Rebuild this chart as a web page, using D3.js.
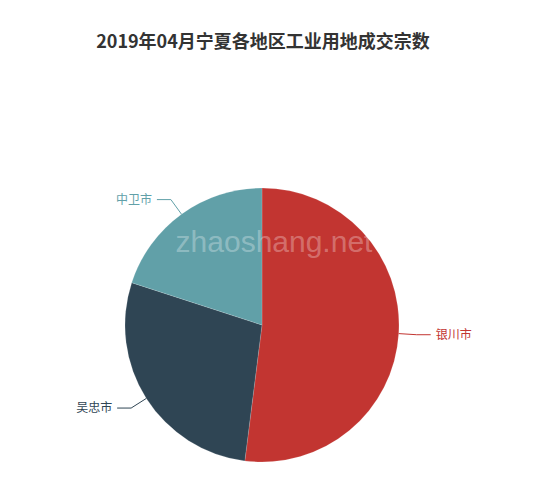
<!DOCTYPE html>
<html>
<head>
<meta charset="utf-8">
<script src="https://cdn.jsdelivr.net/npm/d3@7"></script>
<style>
  body { margin: 0; background: #fff; }
</style>
</head>
<body>
<div id="chart"></div>
<script>
// data
var regions = ["银川市", "吴忠市", "中卫市"];
var counts = [13, 7, 5];
var colors = ["#c23531", "#2f4554", "#61a0a8"];

var svgWidth = 550;
var svgHeight = 490;
var cx = 262, cy = 325, radius = 137;

var svg = d3.select("#chart")
  .append("svg")
  .attr("width", svgWidth)
  .attr("height", svgHeight);

// title
svg.append("text")
  .attr("x", 263)
  .attr("y", 48)
  .attr("text-anchor", "middle")
  .attr("font-family", "'Noto Sans CJK SC', sans-serif")
  .attr("font-weight", "bold")
  .attr("font-size", 18)
  .attr("fill", "#333")
  .text("2019年04月宁夏各地区工业用地成交宗数");

var data = regions.map(function(r, i) {
  return { name: r, value: counts[i], color: colors[i] };
});

var pie = d3.pie().sort(null).value(d => d.value);
var arcs = pie(data);

var arc = d3.arc().innerRadius(0).outerRadius(radius);

var g = svg.append("g")
  .attr("transform", `translate(${cx}, ${cy})`);

g.selectAll("path")
  .data(arcs)
  .enter()
  .append("path")
  .attr("d", arc)
  .attr("fill", d => d.data.color)
  .attr("stroke", "rgba(255,255,255,0.25)")
  .attr("stroke-width", 0.6);

// label lines
var len1 = 18, len2 = 14;
arcs.forEach(function(d) {
  var mid = (d.startAngle + d.endAngle) / 2;
  var sx = Math.sin(mid), sy = -Math.cos(mid);
  var p0 = [sx * radius, sy * radius];
  var p1 = [sx * (radius + len1), sy * (radius + len1)];
  var dir = sx >= 0 ? 1 : -1;
  var p2 = [p1[0] + dir * len2, p1[1]];

  g.append("polyline")
    .attr("points", [p0, p1, p2].map(p => p.join(",")).join(" "))
    .attr("fill", "none")
    .attr("stroke", d.data.color)
    .attr("stroke-width", 1);

  g.append("text")
    .attr("x", p2[0] + dir * 5)
    .attr("y", p2[1])
    .attr("dy", "0.35em")
    .attr("text-anchor", dir > 0 ? "start" : "end")
    .attr("font-family", "'Noto Sans CJK SC', sans-serif")
    .attr("font-size", 12)
    .attr("fill", d.data.color)
    .text(d.data.name);
});

// watermark
svg.append("text")
  .attr("x", 274)
  .attr("y", 252)
  .attr("text-anchor", "middle")
  .attr("font-family", "'Liberation Sans', Arial, sans-serif")
  .attr("font-size", 30)
  .attr("fill", "#fff")
  .attr("fill-opacity", 0.3)
  .text("zhaoshang.net");
</script>
</body>
</html>
